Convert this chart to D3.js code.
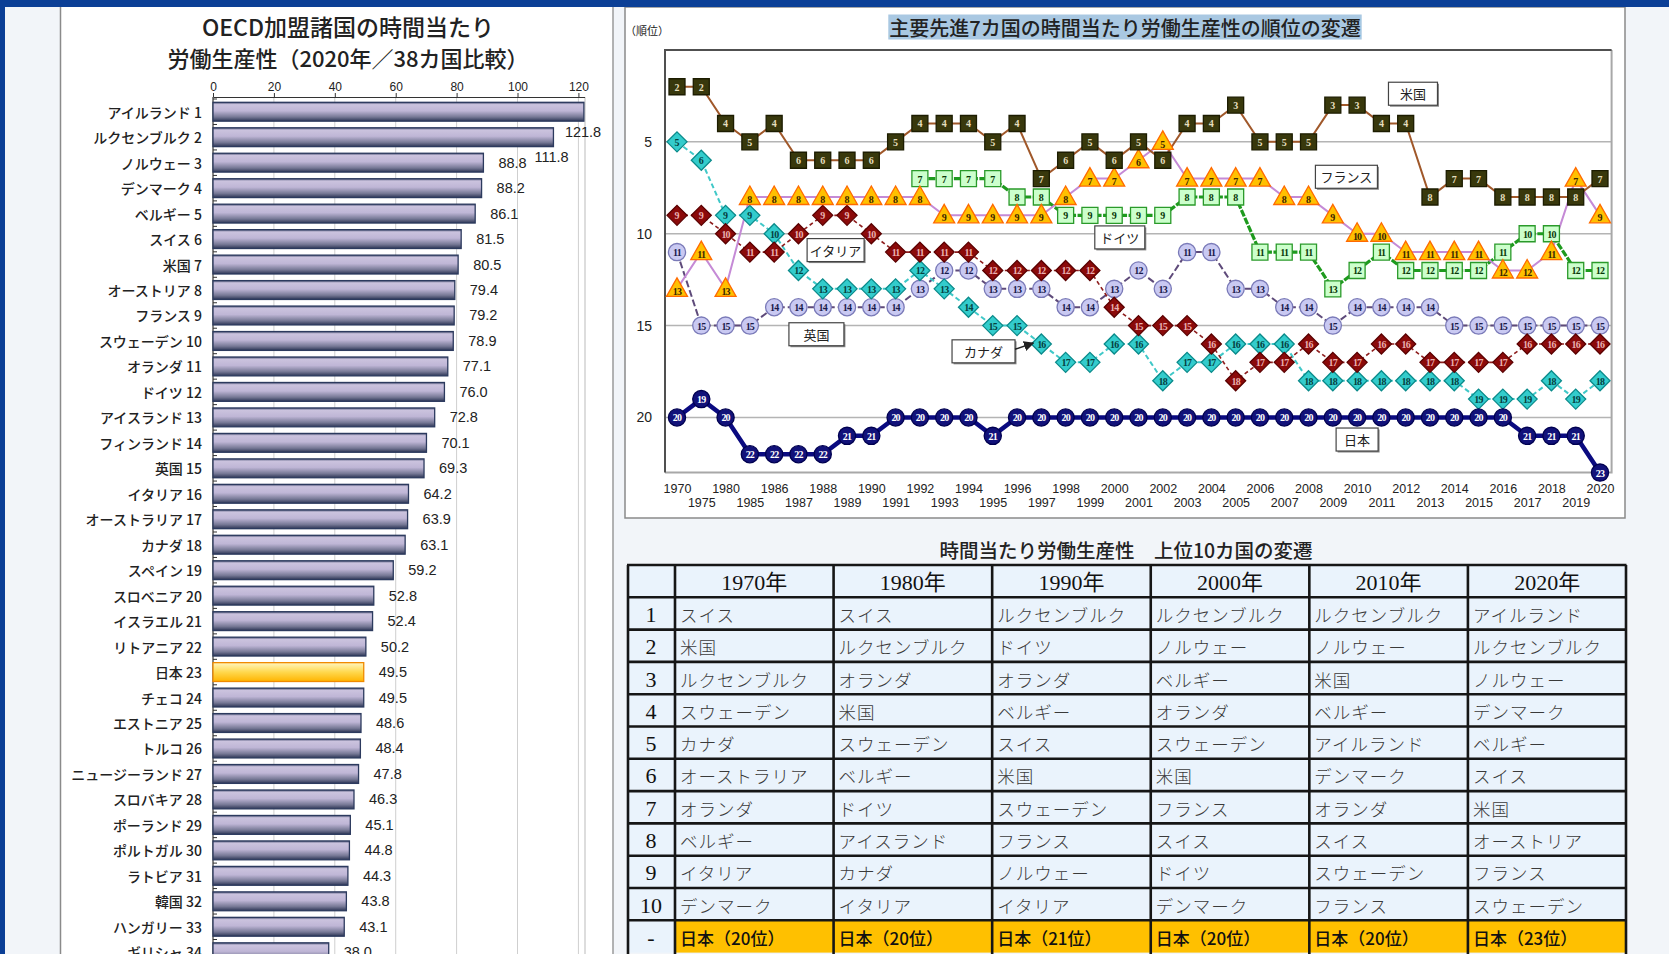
<!DOCTYPE html>
<html lang="ja">
<head>
<meta charset="utf-8">
<script src="https://cdn.jsdelivr.net/npm/d3@7"></script>
<style>
  body { margin: 0; background: #f2f6fa; }
  svg { display: block; }
  text { font-family: "Noto Sans CJK JP", sans-serif; fill: #222; }
  .num { font-family: "Liberation Sans", Arial, sans-serif; }
  .mk { font-family: "Liberation Serif", serif; font-weight: bold; font-size: 10px; }
</style>
</head>
<body>
<svg id="chart" width="1669" height="954"></svg>
<script>
// ---- left bar chart: 2020, 38 OECD countries (visible part)
const barCountries = ["アイルランド","ルクセンブルク","ノルウェー","デンマーク","ベルギー","スイス","米国","オーストリア",
  "フランス","スウェーデン","オランダ","ドイツ","アイスランド","フィンランド","英国","イタリア","オーストラリア",
  "カナダ","スペイン","スロベニア","イスラエル","リトアニア","日本","チェコ","エストニア","トルコ",
  "ニュージーランド","スロバキア","ポーランド","ポルトガル","ラトビア","韓国","ハンガリー","ギリシャ"];
const barValues = [121.8,111.8,88.8,88.2,86.1,81.5,80.5,79.4,79.2,78.9,77.1,76.0,72.8,70.1,69.3,64.2,63.9,
  63.1,59.2,52.8,52.4,50.2,49.5,49.5,48.6,48.4,47.8,46.3,45.1,44.8,44.3,43.8,43.1,38.0];
const barTicks = [0,20,40,60,80,100,120];

// ---- ranking lines, G7
const years = ["1970","1975","1980","1985","1986","1987","1988","1989","1990","1991","1992","1993","1994",
  "1995","1996","1997","1998","1999","2000","2001","2002","2003","2004","2005","2006","2007","2008","2009",
  "2010","2011","2012","2013","2014","2015","2016","2017","2018","2019","2020"];
const rankTicks = [5,10,15,20];
const rankUS      = [2,2,4,5,4,6,6,6,6,5,4,4,4,5,4,7,6,5,6,5,6,4,4,3,5,5,5,3,3,4,4,8,7,7,8,8,8,8,7];
const rankFrance  = [13,11,13,8,8,8,8,8,8,8,8,9,9,9,9,9,8,7,7,6,5,7,7,7,7,8,8,9,10,10,11,11,11,11,12,12,11,7,9];
const rankGermany = [null,null,null,null,null,null,null,null,null,null,
  7,7,7,7,8,8,9,9,9,9,9,8,8,8,11,11,11,13,12,11,12,12,12,12,11,10,10,12,12];
const rankItaly   = [9,9,10,11,11,10,9,9,10,11,11,11,11,12,12,12,12,12,14,15,15,15,16,18,17,17,16,17,17,16,16,17,17,17,17,16,16,16,16];
const rankCanada  = [5,6,9,9,10,12,13,13,13,13,12,13,14,15,15,16,17,17,16,16,18,17,17,16,16,16,18,18,18,18,18,18,18,19,19,19,18,19,18];
const rankUK      = [11,15,15,15,14,14,14,14,14,14,13,12,12,13,13,13,14,14,13,12,13,11,11,13,13,14,14,15,14,14,14,14,15,15,15,15,15,15,15];
const rankJapan   = [20,19,20,22,22,22,22,21,21,20,20,20,20,21,
  20,20,20,20,20,20,20,20,20,20,20,20,20,20,20,20,20,20,20,20,20,21,21,21,23];

// ---- table: top 10 by decade
const tableYears = ["1970年","1980年","1990年","2000年","2010年","2020年"];
const tableRanks = ["1","2","3","4","5","6","7","8","9","10","-"];
const top1970 = ["スイス","米国","ルクセンブルク","スウェーデン","カナダ","オーストラリア","オランダ","ベルギー","イタリア","デンマーク"];
const top1980 = ["スイス","ルクセンブルク","オランダ","米国","スウェーデン","ベルギー","ドイツ","アイスランド","カナダ","イタリア"];
const top1990 = ["ルクセンブルク","ドイツ","オランダ","ベルギー","スイス","米国","スウェーデン","フランス","ノルウェー","イタリア"];
const top2000 = ["ルクセンブルク","ノルウェー","ベルギー","オランダ","スウェーデン","米国","フランス","スイス","ドイツ","デンマーク"];
const top2010 = ["ルクセンブルク","ノルウェー","米国","ベルギー","アイルランド","デンマーク","オランダ","スイス","スウェーデン","フランス"];
const top2020 = ["アイルランド","ルクセンブルク","ノルウェー","デンマーク","ベルギー","スイス","米国","オーストリア","フランス","スウェーデン"];
const japanRank = [20,20,21,20,20,23];

const svg = d3.select("#chart");

// page frame
svg.append("rect").attr("x", 5).attr("y", 0).attr("width", 1664).attr("height", 954).attr("fill", "#f2f5f9");
svg.append("rect").attr("x", 60).attr("y", 7).attr("width", 553).attr("height", 947).attr("fill", "#fff");
svg.append("line").attr("x1", 60.5).attr("x2", 60.5).attr("y1", 7).attr("y2", 954).attr("stroke", "#8a8a8a").attr("stroke-width", 1.5);
svg.append("line").attr("x1", 613).attr("x2", 613).attr("y1", 7).attr("y2", 954).attr("stroke", "#9a9a9a").attr("stroke-width", 1.5);
svg.append("rect").attr("x", 625).attr("y", 7).attr("width", 1000).attr("height", 511)
  .attr("fill", "#fff").attr("stroke", "#8a8a8a").attr("stroke-width", 1.5);

// ================= bar chart =================
const defs = svg.append("defs");
const gBar = defs.append("linearGradient").attr("id", "barGrad").attr("x1", 0).attr("x2", 0).attr("y1", 0).attr("y2", 1);
[[0, "#4a5274"], [0.12, "#cbc3de"], [0.45, "#bfb6d6"], [0.78, "#767895"], [1, "#2d3656"]]
  .forEach(s => gBar.append("stop").attr("offset", s[0]).attr("stop-color", s[1]));
const gJp = defs.append("linearGradient").attr("id", "jpGrad").attr("x1", 0).attr("x2", 0).attr("y1", 0).attr("y2", 1);
[[0, "#fff6c0"], [0.5, "#ffd84e"], [1, "#ffb400"]]
  .forEach(s => gJp.append("stop").attr("offset", s[0]).attr("stop-color", s[1]));
defs.append("marker").attr("id", "arrow").attr("viewBox", "0 0 10 10").attr("refX", 9).attr("refY", 5)
  .attr("markerWidth", 7).attr("markerHeight", 7).attr("orient", "auto")
  .append("path").attr("d", "M0,0 L10,5 L0,10 z").attr("fill", "#222");

svg.append("text").attr("x", 348).attr("y", 26).attr("text-anchor", "middle").attr("dominant-baseline", "central")
  .attr("font-size", 23).attr("font-weight", 500).text("OECD加盟諸国の時間当たり");
svg.append("text").attr("x", 348).attr("y", 56.5).attr("text-anchor", "middle").attr("dominant-baseline", "central")
  .attr("font-size", 22).attr("font-weight", 500).text("労働生産性（2020年／38カ国比較）");

const xBar = d3.scaleLinear().domain([0, 122]).range([213, 584.5]);
const yBar = d3.scaleBand().domain(barCountries).range([99, 99 + barCountries.length * 25.47])
  .paddingInner(0.26).paddingOuter(0.13);

svg.append("g").selectAll("line").data(barTicks.slice(1)).enter().append("line")
  .attr("x1", d => xBar(d)).attr("x2", d => xBar(d)).attr("y1", 97).attr("y2", 954)
  .attr("stroke", "#cfcfcf").attr("stroke-width", 1);
svg.append("line").attr("x1", 585).attr("x2", 585).attr("y1", 97).attr("y2", 954).attr("stroke", "#bbb");

const topAxis = svg.append("g").attr("transform", "translate(0,97)")
  .call(d3.axisTop(xBar).tickValues(barTicks).tickSize(4).tickPadding(2).tickSizeOuter(0));
topAxis.select(".domain").attr("stroke", "#333").attr("stroke-width", 1.2);
topAxis.selectAll("line").attr("stroke", "#333");
topAxis.selectAll("text").attr("class", "num").attr("font-size", 12).attr("fill", "#222");

svg.append("line").attr("x1", 213).attr("x2", 213).attr("y1", 97).attr("y2", 954).attr("stroke", "#333").attr("stroke-width", 1.2);
svg.append("g").selectAll("line").data(barCountries).enter().append("line")
  .attr("x1", 213).attr("x2", 217)
  .attr("y1", d => yBar(d) - yBar.step() * 0.13).attr("y2", d => yBar(d) - yBar.step() * 0.13)
  .attr("stroke", "#333");

svg.append("g").selectAll("rect").data(barCountries).enter().append("rect")
  .attr("x", xBar(0))
  .attr("y", d => yBar(d))
  .attr("width", (d, i) => xBar(barValues[i]) - xBar(0))
  .attr("height", yBar.bandwidth())
  .attr("fill", d => d === "日本" ? "url(#jpGrad)" : "url(#barGrad)")
  .attr("stroke", d => d === "日本" ? "#f08a00" : "#2c3a5e")
  .attr("stroke-width", 1.3);

svg.append("g").selectAll("text").data(barCountries).enter().append("text")
  .attr("x", 202).attr("y", d => yBar(d) + yBar.bandwidth() / 2)
  .attr("text-anchor", "end").attr("dominant-baseline", "central")
  .attr("font-size", 14).attr("font-weight", 500)
  .text((d, i) => d + " " + (i + 1));

svg.append("g").selectAll("text").data(barValues).enter().append("text")
  .attr("class", "num")
  .attr("x", d => d > 100 ? xBar(d) - 19 : xBar(d) + 15)
  .attr("y", (d, i) => yBar(barCountries[i]) + yBar.bandwidth() / 2 + (d > 100 ? 20 : 0))
  .attr("dominant-baseline", "central").attr("font-size", 14.5)
  .text(d => d.toFixed(1));

// ================= ranking line chart =================
const xL = d3.scalePoint().domain(years).range([677, 1600]);
const yL = d3.scaleLinear().domain([0, 23]).range([50, 472.6]);
const xAt = i => xL(years[0]) + i * xL.step();

svg.append("text").attr("x", 647).attr("y", 30).attr("text-anchor", "middle").attr("dominant-baseline", "central")
  .attr("font-size", 11).text("（順位）");

const title = svg.append("text").attr("x", 1125).attr("y", 27).attr("text-anchor", "middle")
  .attr("dominant-baseline", "central").attr("font-size", 20).attr("font-weight", 500).attr("fill", "#1a1a1a")
  .text("主要先進7カ国の時間当たり労働生産性の順位の変遷");
const tb = title.node().getBBox();
svg.insert("rect", () => title.node()).attr("x", tb.x - 1).attr("y", tb.y + 2).attr("width", tb.width + 2)
  .attr("height", tb.height - 4).attr("fill", "#a9c8e2");

svg.append("rect").attr("x", 665).attr("y", 50).attr("width", 946.6).attr("height", 422.6).attr("fill", "#fff");
svg.append("g").selectAll("line").data(rankTicks).enter().append("line")
  .attr("x1", 665).attr("x2", 1611.6).attr("y1", d => yL(d)).attr("y2", d => yL(d))
  .attr("stroke", "#b4b4b4").attr("stroke-width", 1.5);
svg.append("path").attr("d", "M1611.6,50 V472.6 H665").attr("fill", "none").attr("stroke", "#a8a8a8").attr("stroke-width", 2);
svg.append("path").attr("d", "M665,472.6 V50 H1611.6").attr("fill", "none").attr("stroke", "#505050").attr("stroke-width", 2);

const yAxisL = svg.append("g").attr("transform", "translate(665,0)")
  .call(d3.axisLeft(yL).tickValues(rankTicks).tickSize(0).tickPadding(13));
yAxisL.select(".domain").remove();
yAxisL.selectAll("text").attr("class", "num").attr("font-size", 14).attr("fill", "#222");

const xAxisL = svg.append("g").attr("transform", "translate(0,472.6)")
  .call(d3.axisBottom(xL).tickSize(0));
xAxisL.select(".domain").remove();
xAxisL.selectAll("text").attr("class", "num").attr("font-size", 12.5).attr("fill", "#222")
  .attr("y", (d, i) => i % 2 ? 26 : 12);

const series = [
  { name: "英国", ranks: rankUK, shape: "circle", fill: "#c9c9f2", stroke: "#7a7ab8", txt: "#1a1a4a", line: "#5e4a7a", lw: 2, dash: "7,3" },
  { name: "カナダ", ranks: rankCanada, shape: "diamond", fill: "#33cccc", stroke: "#0a8a8a", txt: "#05403f", line: "#40c8c8", lw: 2, dash: "5,3" },
  { name: "イタリア", ranks: rankItaly, shape: "diamond", fill: "#8b0a0a", stroke: "#5a0000", txt: "#eab0b0", line: "#8e1e1e", lw: 1.6, dash: "4,3" },
  { name: "日本", ranks: rankJapan, shape: "circle", fill: "#12127a", stroke: "#000050", txt: "#ffffff", line: "#0a0a80", lw: 4.5, dash: null },
  { name: "ドイツ", ranks: rankGermany, shape: "square", fill: "#ccffcc", stroke: "#2a9a2a", txt: "#083808", line: "#1e9a1e", lw: 3.2, dash: "7,1.5" },
  { name: "フランス", ranks: rankFrance, shape: "triangle", fill: "#ffc000", stroke: "#ff6a00", txt: "#3a2600", line: "#c58ad6", lw: 2, dash: null },
  { name: "米国", ranks: rankUS, shape: "square", fill: "#38380c", stroke: "#1c1c00", txt: "#e6dfbf", line: "#a0582a", lw: 2, dash: null }
];

const line = d3.line().defined(d => d != null).x((d, i) => xAt(i)).y(d => yL(d));
series.forEach(s => {
  svg.append("path").datum(s.ranks).attr("d", line).attr("fill", "none")
    .attr("stroke", s.line).attr("stroke-width", s.lw).attr("stroke-dasharray", s.dash);
});

const shapePath = {
  square: "M-8,-8 H8 V8 H-8 Z",
  diamond: "M0,-10 L10,0 L0,10 L-10,0 Z",
  triangle: "M0,-11 L10.5,7.5 L-10.5,7.5 Z"
};
series.forEach(s => {
  const pts = s.ranks.map((r, i) => ({ r: r, i: i })).filter(p => p.r != null);
  const g = svg.append("g").selectAll("g").data(pts).enter().append("g")
    .attr("transform", p => "translate(" + xAt(p.i) + "," + yL(p.r) + ")");
  if (s.shape === "circle") {
    g.append("circle").attr("r", 8.6).attr("fill", s.fill).attr("stroke", s.stroke).attr("stroke-width", 1.3);
  } else {
    g.append("path").attr("d", shapePath[s.shape]).attr("fill", s.fill).attr("stroke", s.stroke).attr("stroke-width", 1.3);
  }
  g.append("text").attr("class", "mk").attr("text-anchor", "middle").attr("dominant-baseline", "central")
    .attr("y", s.shape === "triangle" ? 2.5 : 0.5)
    .attr("letter-spacing", p => p.r >= 10 ? -0.8 : 0)
    .style("fill", s.txt).text(p => p.r);
});

// series name boxes (fractional year index / rank position)
const notes = [
  { text: "米国", at: 30.3, rank: 2.38, w: 49 },
  { text: "フランス", at: 27.56, rank: 6.9, w: 62 },
  { text: "ドイツ", at: 18.23, rank: 10.2, w: 50 },
  { text: "イタリア", at: 6.53, rank: 10.89, w: 57 },
  { text: "英国", at: 5.74, rank: 15.47, w: 55 },
  { text: "カナダ", at: 12.62, rank: 16.4, w: 63 },
  { text: "日本", at: 28.0, rank: 21.2, w: 42 }
];
notes.forEach(n => {
  const cx = xAt(n.at), cy = yL(n.rank);
  svg.append("rect").attr("x", cx - n.w / 2 + 1.5).attr("y", cy - 11.5 + 1.5).attr("width", n.w).attr("height", 23)
    .attr("fill", "#888");
  svg.append("rect").attr("x", cx - n.w / 2).attr("y", cy - 11.5).attr("width", n.w).attr("height", 23)
    .attr("fill", "#fff").attr("stroke", "#444").attr("stroke-width", 1.2);
  svg.append("text").attr("x", cx).attr("y", cy).attr("text-anchor", "middle").attr("dominant-baseline", "central")
    .attr("font-size", 13).text(n.text);
});
const cn = notes[5];
svg.append("line").attr("x1", xAt(cn.at) + cn.w / 2).attr("y1", yL(cn.rank) - 2)
  .attr("x2", xAt(15) - 8).attr("y2", yL(rankCanada[15]) - 1)
  .attr("stroke", "#222").attr("stroke-width", 1.5).attr("marker-end", "url(#arrow)");

// ================= table =================
svg.append("text").attr("x", 1126).attr("y", 549).attr("text-anchor", "middle").attr("dominant-baseline", "central")
  .attr("font-size", 19.5).attr("font-weight", 500).text("時間当たり労働生産性　上位10カ国の変遷");

const columns = [top1970, top1980, top1990, top2000, top2010, top2020];
const colX = d3.scaleBand().domain(tableYears).range([675, 1626.5]);
const rowY = d3.scaleBand().domain(["head"].concat(tableRanks)).range([565, 565 + 12 * 32.3]);

// backgrounds
svg.append("rect").attr("x", 627).attr("y", 565).attr("width", 999.5).attr("height", 12 * 32.3).attr("fill", "#eaf3fc");
svg.append("g").selectAll("rect").data(tableYears).enter().append("rect")
  .attr("x", d => colX(d)).attr("y", rowY("-")).attr("width", colX.bandwidth()).attr("height", rowY.bandwidth())
  .attr("fill", "#ffc000");

// grid lines
const gridColor = "#161616";
svg.append("g").selectAll("line").data(["head"].concat(tableRanks)).enter().append("line")
  .attr("x1", 627).attr("x2", 1626.5).attr("y1", d => rowY(d)).attr("y2", d => rowY(d))
  .attr("stroke", gridColor).attr("stroke-width", 2.6);
svg.append("g").selectAll("line").data(tableYears).enter().append("line")
  .attr("x1", d => colX(d)).attr("x2", d => colX(d)).attr("y1", 565).attr("y2", 954)
  .attr("stroke", gridColor).attr("stroke-width", 2.6);
svg.append("line").attr("x1", 628).attr("x2", 628).attr("y1", 565).attr("y2", 954).attr("stroke", gridColor).attr("stroke-width", 2.6);
svg.append("line").attr("x1", 1626).attr("x2", 1626).attr("y1", 565).attr("y2", 954).attr("stroke", gridColor).attr("stroke-width", 2.6);

// header
svg.append("g").selectAll("text").data(tableYears).enter().append("text")
  .attr("x", d => colX(d) + colX.bandwidth() / 2).attr("y", rowY("head") + rowY.bandwidth() / 2 + 1)
  .attr("text-anchor", "middle").attr("dominant-baseline", "central")
  .style("font-family", "'Liberation Serif', 'Noto Sans CJK JP', serif").attr("font-size", 22).style("fill", "#111")
  .text(d => d);
// rank column
svg.append("g").selectAll("text").data(tableRanks).enter().append("text")
  .attr("x", 651).attr("y", d => rowY(d) + rowY.bandwidth() / 2 + 1)
  .attr("text-anchor", "middle").attr("dominant-baseline", "central")
  .style("font-family", "'Liberation Serif', serif").attr("font-size", 22).style("fill", "#111")
  .text(d => d);
// country cells
columns.forEach((col, c) => {
  svg.append("g").selectAll("text").data(col).enter().append("text")
    .attr("x", colX(tableYears[c]) + 5).attr("y", (d, i) => rowY(tableRanks[i]) + rowY.bandwidth() / 2 + 1)
    .attr("dominant-baseline", "central").attr("font-size", 17.5).attr("letter-spacing", 1)
    .style("fill", "#3a3a3a").style("font-weight", 300)
    .text(d => d);
});
svg.append("g").selectAll("text").data(japanRank).enter().append("text")
  .attr("x", (d, i) => colX(tableYears[i]) + 5).attr("y", rowY("-") + rowY.bandwidth() / 2 + 1)
  .attr("dominant-baseline", "central").attr("font-size", 17).attr("font-weight", 500).style("fill", "#111")
  .text(d => "日本（" + d + "位）");

// blue frame on top
svg.append("rect").attr("x", 0).attr("y", 0).attr("width", 1669).attr("height", 7).attr("fill", "#0b3f96");
svg.append("rect").attr("x", 0).attr("y", 0).attr("width", 5).attr("height", 954).attr("fill", "#0b3f96");
</script>
</body>
</html>
